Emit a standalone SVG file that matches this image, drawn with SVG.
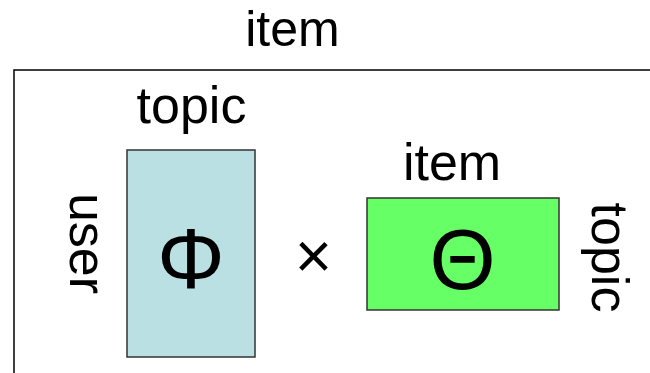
<svg xmlns="http://www.w3.org/2000/svg" width="650" height="373" viewBox="0 0 650 373">
<style>
text{font-family:"Liberation Sans",Arial,sans-serif;fill:#000}
.lbl{font-size:52px;text-anchor:middle}
.sym{font-size:85px;text-anchor:middle}
.box{stroke:#333;stroke-width:1.5}
</style>
<rect width="650" height="373" fill="#fff"/>
<g id="frame">
<path d="M650,70 H14 V373" fill="none" stroke="#000" stroke-width="1.5"/>
<text class="lbl" style="font-size:50px" x="292.5" y="46">item</text>
</g>
<g id="phi">
<rect class="box" x="127" y="150" width="128" height="207" fill="#BBE0E3"/>
<text class="lbl" x="191.5" y="123">topic</text>
<text class="lbl" transform="translate(70,243.5) rotate(90)" x="0" y="0">user</text>
<text class="sym" x="191" y="288">Φ</text>
</g>
<g id="times">
<text class="lbl" style="font-size:64px" x="313.5" y="278">×</text>
</g>
<g id="theta">
<rect class="box" x="367" y="198" width="192" height="112" fill="#66FF66"/>
<text class="lbl" x="452" y="180">item</text>
<text class="lbl" transform="translate(592,257.5) rotate(90)" x="0" y="0">topic</text>
<text class="sym" x="462.5" y="289">Θ</text>
</g>
<g id="connectors"></g>
</svg>
